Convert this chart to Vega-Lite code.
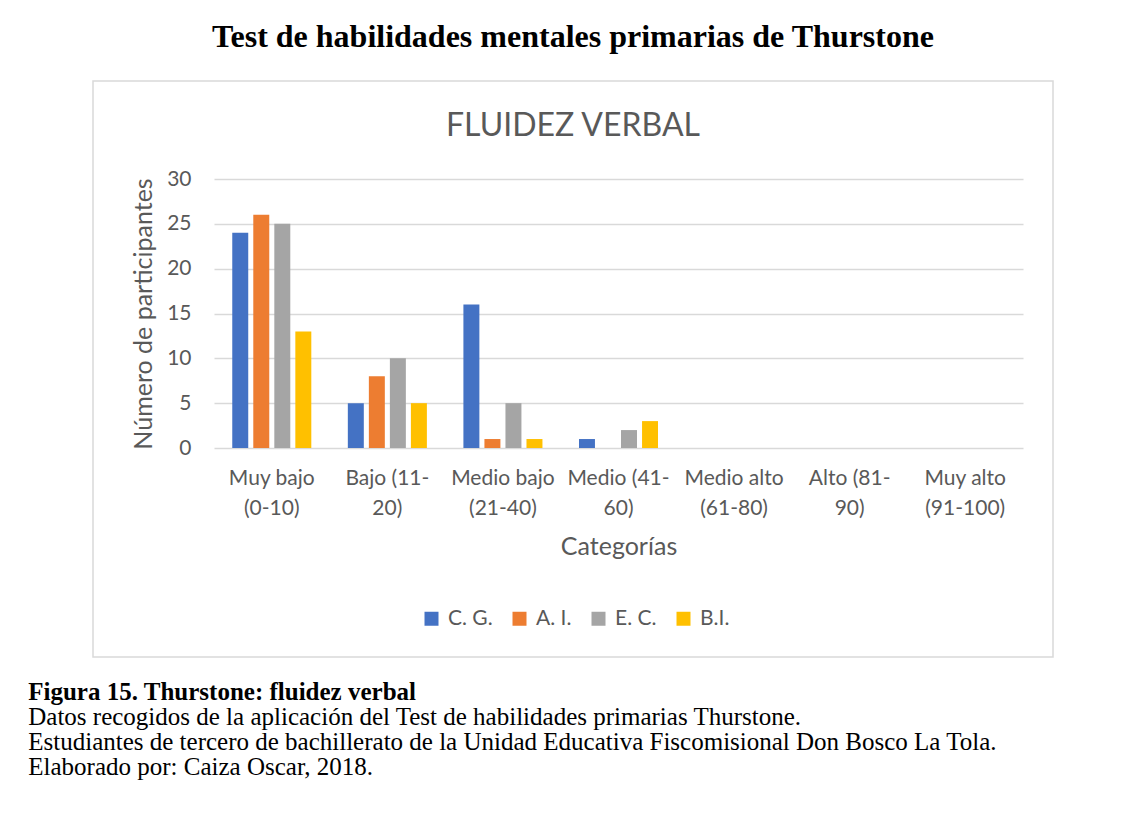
{
  "$schema": "https://vega.github.io/schema/vega-lite/v6.json",
  "background": "white",
  "padding": {"left": 28, "top": 21, "right": 20, "bottom": 20},
  "title": {
    "text": "Figura 15. Thurstone: fluidez verbal",
    "subtitle": [
      "Datos recogidos de la aplicación del Test de habilidades primarias Thurstone.",
      "Estudiantes de tercero de bachillerato de la Unidad Educativa Fiscomisional Don Bosco La Tola.",
      "Elaborado por: Caiza Oscar, 2018."
    ],
    "orient": "bottom",
    "anchor": "start",
    "dx": -64,
    "offset": 22,
    "font": "Liberation Serif",
    "fontSize": 25,
    "fontWeight": "bold",
    "color": "#000000",
    "subtitleFont": "Liberation Serif",
    "subtitleFontSize": 25,
    "subtitleColor": "#000000",
    "subtitleLineHeight": 25,
    "subtitlePadding": 0
  },
  "data": {
    "values": [
      {"categoria": "Muy bajo (0-10)", "grupo": "C. G.", "n": 24},
      {"categoria": "Muy bajo (0-10)", "grupo": "A. I.", "n": 26},
      {"categoria": "Muy bajo (0-10)", "grupo": "E. C.", "n": 25},
      {"categoria": "Muy bajo (0-10)", "grupo": "B.I.", "n": 13},
      {"categoria": "Bajo (11-20)", "grupo": "C. G.", "n": 5},
      {"categoria": "Bajo (11-20)", "grupo": "A. I.", "n": 8},
      {"categoria": "Bajo (11-20)", "grupo": "E. C.", "n": 10},
      {"categoria": "Bajo (11-20)", "grupo": "B.I.", "n": 5},
      {"categoria": "Medio bajo (21-40)", "grupo": "C. G.", "n": 16},
      {"categoria": "Medio bajo (21-40)", "grupo": "A. I.", "n": 1},
      {"categoria": "Medio bajo (21-40)", "grupo": "E. C.", "n": 5},
      {"categoria": "Medio bajo (21-40)", "grupo": "B.I.", "n": 1},
      {"categoria": "Medio (41-60)", "grupo": "C. G.", "n": 1},
      {"categoria": "Medio (41-60)", "grupo": "A. I.", "n": 0},
      {"categoria": "Medio (41-60)", "grupo": "E. C.", "n": 2},
      {"categoria": "Medio (41-60)", "grupo": "B.I.", "n": 3},
      {"categoria": "Medio alto (61-80)", "grupo": "C. G.", "n": 0},
      {"categoria": "Medio alto (61-80)", "grupo": "A. I.", "n": 0},
      {"categoria": "Medio alto (61-80)", "grupo": "E. C.", "n": 0},
      {"categoria": "Medio alto (61-80)", "grupo": "B.I.", "n": 0},
      {"categoria": "Alto (81-90)", "grupo": "C. G.", "n": 0},
      {"categoria": "Alto (81-90)", "grupo": "A. I.", "n": 0},
      {"categoria": "Alto (81-90)", "grupo": "E. C.", "n": 0},
      {"categoria": "Alto (81-90)", "grupo": "B.I.", "n": 0},
      {"categoria": "Muy alto (91-100)", "grupo": "C. G.", "n": 0},
      {"categoria": "Muy alto (91-100)", "grupo": "A. I.", "n": 0},
      {"categoria": "Muy alto (91-100)", "grupo": "E. C.", "n": 0},
      {"categoria": "Muy alto (91-100)", "grupo": "B.I.", "n": 0}
    ]
  },
  "vconcat": [
    {
      "title": {
        "text": "Test de habilidades mentales primarias de Thurstone",
        "font": "Liberation Serif",
        "fontSize": 32,
        "fontWeight": "bold",
        "color": "#000000",
        "anchor": "middle",
        "offset": 26
      },
      "vconcat": [
        {
          "width": 960,
          "height": 576,
          "view": {"stroke": "#d9d9d9", "strokeWidth": 1.5, "fill": "white"},
          "title": {
            "text": "FLUIDEZ VERBAL",
            "font": "Lato",
            "fontSize": 32,
            "fontWeight": "normal",
            "color": "#595959",
            "anchor": "middle",
            "offset": -62
          },
          "mark": {"type": "bar"},
          "encoding": {
            "x": {
              "field": "categoria",
              "type": "nominal",
              "sort": null,
              "scale": {"range": [121, 930], "paddingInner": 0.316, "paddingOuter": 0.158},
              "axis": {
                "title": "Categorías",
                "orient": "bottom",
                "offset": -209,
                "labelAngle": 0,
                "labelExpr": "length(datum.label) <= 13 ? [slice(datum.label, 0, indexof(datum.label, '-') + 1), slice(datum.label, indexof(datum.label, '-') + 1)] : [slice(datum.label, 0, indexof(datum.label, ' (')), slice(datum.label, indexof(datum.label, ' (') + 1)]",
                "labelLineHeight": 30,
                "labelPadding": 19,
                "titlePadding": 16,
                "domain": false,
                "ticks": false,
                "tickSize": 0,
                "grid": false
              }
            },
            "xOffset": {
              "field": "grupo",
              "type": "nominal",
              "sort": null,
              "scale": {"paddingInner": 0.24, "paddingOuter": 0}
            },
            "y": {
              "field": "n",
              "type": "quantitative",
              "scale": {"domain": [0, 30], "range": [367, 98], "nice": false},
              "axis": {
                "title": "Número de participantes",
                "orient": "left",
                "offset": -121,
                "values": [0, 5, 10, 15, 20, 25, 30],
                "domain": false,
                "ticks": false,
                "tickSize": 0,
                "labelPadding": 23,
                "titlePadding": 10,
                "grid": true,
                "gridColor": "#d9d9d9",
                "gridWidth": 1.5
              }
            },
            "color": {
              "field": "grupo",
              "type": "nominal",
              "sort": null,
              "scale": {
                "domain": ["C. G.", "A. I.", "E. C.", "B.I."],
                "range": ["#4472C4", "#ED7D31", "#A5A5A5", "#FFC000"]
              },
              "legend": {
                "title": null,
                "orient": "none",
                "legendX": 328,
                "legendY": 527,
                "direction": "horizontal",
                "columns": 4,
                "columnPadding": 16,
                "symbolType": "square",
                "symbolSize": 196,
                "symbolStrokeWidth": 0,
                "labelOffset": 6,
                "labelFont": "Lato",
                "labelFontSize": 21,
                "labelColor": "#595959"
              }
            }
          }
        }
      ]
    }
  ],
  "config": {
    "axis": {
      "labelFont": "Lato",
      "labelFontSize": 21,
      "labelColor": "#595959",
      "titleFont": "Lato",
      "titleFontSize": 25,
      "titleFontWeight": "normal",
      "titleColor": "#595959"
    }
  }
}
